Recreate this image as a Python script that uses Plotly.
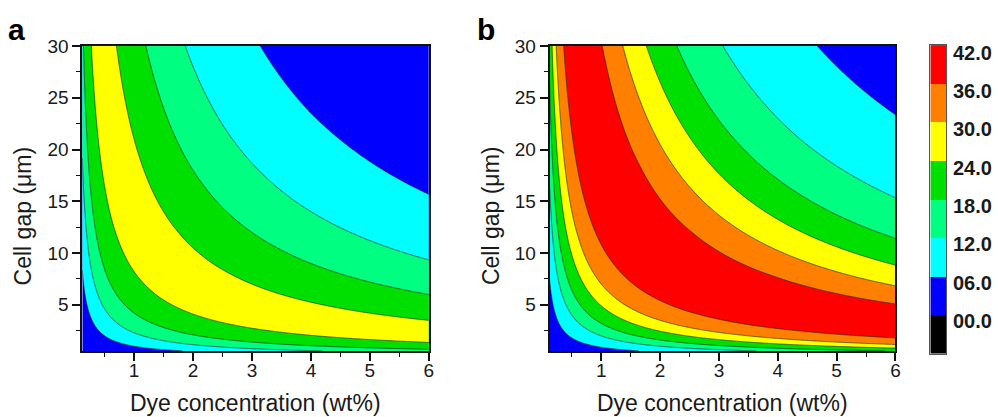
import numpy as np
import plotly.graph_objects as go

# ---------------- data ----------------
conc_range = [0.12, 6.0]          # Dye concentration (wt%)
gap_range = [0.55, 30.0]          # Cell gap (um)
x_ticks = [1, 2, 3, 4, 5, 6]
y_ticks = [5, 10, 15, 20, 25, 30]

levels = [6, 12, 18, 24, 30, 36]
band_colors = ["#0000FF", "#00FFFF", "#00FF80", "#00E000", "#FFFF00", "#FF8000", "#FF0000"]
colorbar_colors = ["#000000"] + band_colors
colorbar_labels = ["00.0", "06.0", "12.0", "18.0", "24.0", "30.0", "36.0", "42.0"]

# value vs. product (concentration x cell gap), read at the contour crossings
prod_a = [0.1, 1.0, 2.3, 4.2, 8.2, 13.0, 21.0, 36.0, 56.0, 94.0, 300.0]
val_a = [0.0, 6.0, 12.0, 18.0, 24.0, 27.0, 24.0, 18.0, 12.0, 6.0, 1.0]

prod_b = [0.1, 0.9, 2.0, 3.2, 4.9, 7.0, 10.8, 17.0, 30.5, 41.0, 53.0, 68.5, 92.0, 140.0, 300.0]
val_b = [0.0, 6.0, 12.0, 18.0, 24.0, 30.0, 36.0, 40.0, 36.0, 30.0, 24.0, 18.0, 12.0, 6.0, 1.0]

# ---------------- grid ----------------
cx = np.geomspace(conc_range[0], conc_range[1], 420)
gy = np.geomspace(gap_range[0], gap_range[1], 420)
A = np.outer(gy, cx)
za = np.interp(np.log(A), np.log(prod_a), val_a)
zb = np.interp(np.log(A), np.log(prod_b), val_b)

W, H = 998, 417
# observed vertical mapping of the capture: screen = 9.0 + 0.9735 * figure
Y_OFF, Y_SCL = 9.0, 0.9735


def px_x(p):
    return p / W


def px_y(p):
    return 1 - ((p - Y_OFF) / Y_SCL) / H


def stepped(colors):
    n = len(colors)
    cs = []
    for k, c in enumerate(colors):
        cs.append([k / n, c])
        cs.append([(k + 1) / n, c])
    return cs


fill_scale = stepped(band_colors)

fig = go.Figure()
for z, xa, ya in [(za, "x", "y"), (zb, "x2", "y2")]:
    fig.add_trace(go.Contour(
        x=cx, y=gy, z=z, xaxis=xa, yaxis=ya,
        autocontour=False,
        contours=dict(start=levels[0], end=levels[-1], size=6,
                      coloring="fill", showlines=True),
        line=dict(color="rgba(30,40,30,0.85)", width=0.8, smoothing=0),
        colorscale=fill_scale, showscale=False, hoverinfo="skip",
    ))

# colour bar drawn as a small heatmap
fig.add_trace(go.Heatmap(
    z=[[k] for k in range(len(colorbar_colors))],
    x=[0], y=list(range(len(colorbar_colors))),
    xaxis="x3", yaxis="y3",
    colorscale=stepped(colorbar_colors), zmin=-0.5, zmax=len(colorbar_colors) - 0.5,
    showscale=False, hoverinfo="skip",
))

font_family = "Liberation Sans, Arial, sans-serif"
tick_font = dict(family=font_family, size=19, color="#1a1a1a")

x_common = dict(range=conc_range, tickvals=x_ticks, ticks="outside", ticklen=8,
                tickwidth=1.5, tickcolor="#111", showline=True, linewidth=1.8,
                linecolor="#111", mirror=True, showgrid=False, zeroline=False,
                tickfont=tick_font, ticklabelstandoff=-7,
                minor=dict(ticks="outside", ticklen=4, tickwidth=1.2, tickcolor="#111",
                           tick0=0.5, dtick=1, showgrid=False))
y_common = dict(range=gap_range, tickvals=y_ticks, ticks="outside", ticklen=8,
                tickwidth=1.5, tickcolor="#111", showline=True, linewidth=1.8,
                linecolor="#111", mirror=True, showgrid=False, zeroline=False,
                tickfont=tick_font,
                minor=dict(ticks="outside", ticklen=4, tickwidth=1.2, tickcolor="#111",
                           tick0=2.5, dtick=5, showgrid=False))

y_dom = [px_y(349), px_y(45)]
fig.update_layout(
    width=W, height=H, margin=dict(l=0, r=0, t=0, b=0),
    paper_bgcolor="white", plot_bgcolor="white", showlegend=False,
    xaxis=dict(domain=[px_x(82.7), px_x(431)], anchor="y", **x_common),
    yaxis=dict(domain=y_dom, anchor="x", **y_common),
    xaxis2=dict(domain=[px_x(552.3), px_x(900)], anchor="y2", **x_common),
    yaxis2=dict(domain=y_dom, anchor="x2", **y_common),
    xaxis3=dict(domain=[px_x(935), px_x(951)], anchor="y3", range=[-0.5, 0.5],
                showticklabels=False, ticks="", showgrid=False, zeroline=False,
                showline=True, mirror=True, linecolor="#555", linewidth=1),
    yaxis3=dict(domain=[px_y(351.7), px_y(44)], anchor="x3",
                range=[-0.5, len(colorbar_colors) - 0.5],
                showticklabels=False, ticks="", showgrid=False, zeroline=False,
                showline=True, mirror=True, linecolor="#555", linewidth=1),
)

ann = []
title_font = dict(family=font_family, size=23, color="#1a1a1a")
for cxp in [(82.7 + 431) / 2, (552.3 + 900) / 2]:
    ann.append(dict(text="Dye concentration (wt%)", x=px_x(cxp), y=px_y(401),
                    xref="paper", yref="paper", xanchor="center", yanchor="middle",
                    showarrow=False, font=title_font))
for xp in [23, 493]:
    ann.append(dict(text="Cell gap (\u03bcm)", x=px_x(xp), y=px_y(214), textangle=-90,
                    xref="paper", yref="paper", xanchor="center", yanchor="middle",
                    showarrow=False, font=title_font))
for lab, xp in [("a", 17), ("b", 488)]:
    ann.append(dict(text=lab, x=px_x(xp), y=px_y(28), xref="paper", yref="paper",
                    xanchor="center", yanchor="middle", showarrow=False,
                    font=dict(family=font_family, size=30, color="#000", weight="bold")))
for k, lab in enumerate(colorbar_labels):
    ann.append(dict(text=lab, x=px_x(956), y=px_y(319 - k * 38.2), xref="paper",
                    yref="paper", xanchor="left", yanchor="middle", showarrow=False,
                    font=dict(family=font_family, size=20, color="#1a1a1a", weight="bold")))
fig.update_layout(annotations=ann)

pin_js = ("document.documentElement.style.margin='0';"
          "document.body.style.margin='0';document.body.style.padding='0';"
          "document.body.style.overflow='hidden';"
          "var d=document.getElementById('{plot_id}');"
          "d.style.position='fixed';d.style.left='0px';d.style.top='0px';"
          "window.scrollTo(0,0);")
fig.write_html("out.html", post_script=pin_js, config={"displayModeBar": False})
